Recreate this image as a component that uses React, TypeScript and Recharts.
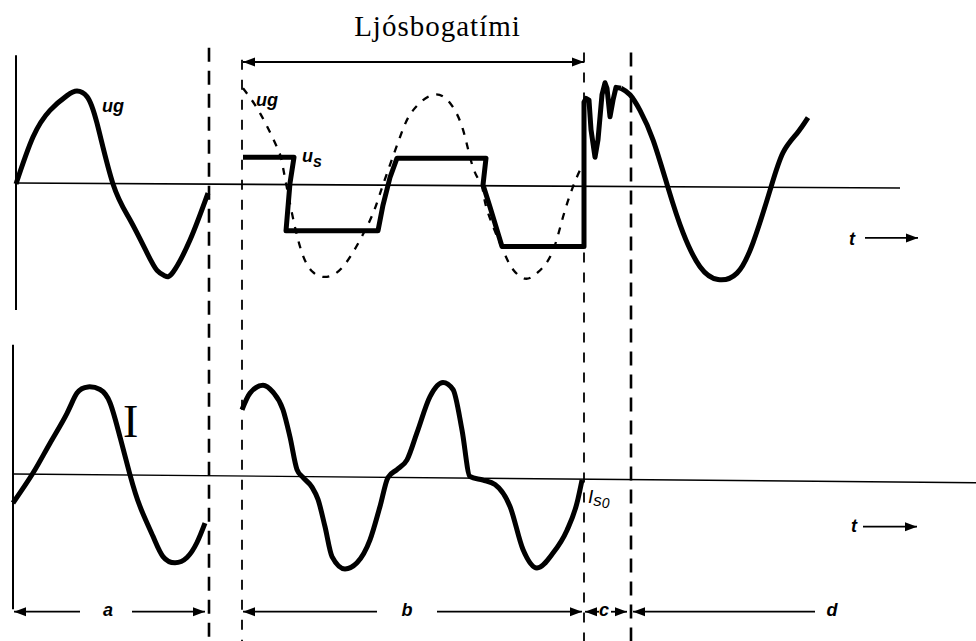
import React from 'react';
import { LineChart, Line, XAxis, YAxis, ReferenceLine, ReferenceDot } from 'recharts';

// t in ms (one mains period = 20 ms), voltage u and current i normalised to amplitude 1.
type Pt = { t: number; v: number };
const pts = (rows: number[][]): Pt[] => rows.map(([t, v]) => ({ t, v }));

const T_DOMAIN: [number, number] = [-1.6, 96];
const U_DOMAIN: [number, number] = [-4.97, 2.0];
const I_DOMAIN: [number, number] = [-1.89, 5.4];

// top panel: generator voltage before the fault
const UG_BEFORE = pts([
  [0, 0], [1.7, 0.51], [3.4, 0.8], [5.1, 0.96], [6.1, 1.01], [7.1, 0.95], [8.1, 0.66],
  [9.7, 0], [11.4, -0.39], [13.1, -0.75], [14.1, -0.94], [14.9, -1.0], [15.7, -0.96], [17.4, -0.61],
  [19.2, -0.1],
]);

// top panel: undisturbed generator voltage during the arc (dashed)
const UG_ARC = pts([
  [22.7, 1.04], [24.4, 0.77], [26.1, 0.4], [26.7, 0.18], [27.6, -0.32], [28.6, -0.75], [29.7, -0.96],
  [31.1, -1.01], [32.7, -0.9], [34.4, -0.61], [35.7, -0.32], [36.7, -0.01], [38.4, 0.51], [39.7, 0.8],
  [41.7, 0.97], [43.4, 0.88], [44.7, 0.59], [45.7, 0.18], [46.6, -0.03], [47.1, -0.28], [48.7, -0.72],
  [49.7, -0.93], [50.9, -1.03], [52.2, -0.96], [53.6, -0.75], [54.7, -0.36], [55.7, -0.03], [56.4, 0.15],
]);

// top panel: arc voltage, then the re-ignition spikes
const US_ARC = pts([
  [22.7, 0.29], [27.8, 0.29], [27.4, 0.01], [27.0, -0.51], [36.2, -0.51], [36.7, -0.23], [37.4, 0.07],
  [38.1, 0.28], [47.0, 0.28], [46.7, -0.01], [47.4, -0.25], [48.6, -0.68], [56.8, -0.68], [56.8, 0.89],
  [57.0, 0.93], [57.3, 0.91], [57.5, 0.59], [57.9, 0.29], [58.2, 0.48], [58.6, 0.97], [58.9, 1.1],
  [59.1, 1.04], [59.4, 0.73], [59.7, 0.91], [60.0, 1.05], [60.5, 1.04],
]);

// top panel: generator voltage after the arc is extinguished
const UG_AFTER = pts([
  [60.5, 1.04], [61.4, 0.97], [62.4, 0.8], [63.7, 0.48], [65.2, -0.04], [66.7, -0.53], [68.4, -0.9],
  [70.2, -1.04], [72.1, -0.97], [73.7, -0.64], [75.4, -0.07], [76.7, 0.34], [78.1, 0.55], [79.2, 0.72],
]);

// bottom panel: current
const I_BEFORE = pts([
  [-0.3, -0.32], [1.7, 0.02], [3.4, 0.36], [5.1, 0.7], [6.1, 0.93], [7.2, 1.0], [8.4, 0.97], [9.4, 0.82],
  [10.4, 0.43], [11.4, 0], [12.4, -0.36], [13.7, -0.7], [14.7, -0.93], [15.9, -1.0], [17.1, -0.94],
  [18.1, -0.77], [18.9, -0.55],
]);

const I_ARC = pts([
  [22.6, 0.74], [23.4, 0.93], [24.7, 1.02], [25.7, 0.94], [26.7, 0.74], [27.4, 0.43], [28.1, 0.06],
  [28.7, -0.03], [29.6, -0.14], [30.2, -0.28], [30.9, -0.59], [31.6, -0.93], [32.9, -1.07], [34.1, -1.0],
  [35.4, -0.74], [36.4, -0.36], [37.2, -0.03], [38.1, 0.06], [39.1, 0.17], [40.1, 0.48], [41.4, 0.89],
  [42.7, 1.05], [43.7, 0.97], [44.6, 0.51], [45.4, -0.02], [46.7, -0.06], [47.9, -0.11], [49.4, -0.36],
  [50.7, -0.85], [52.1, -1.06], [53.7, -0.89], [55.1, -0.63], [56.1, -0.32], [56.6, -0.06],
]);

// phase boundaries (ms) and where their dashes start (in u units)
const BOUNDARIES = [
  { t: 19.3, top: 1.48, bold: true },
  { t: 22.6, top: 1.35, bold: false },
  { t: 56.8, top: 1.43, bold: false },
  { t: 61.5, top: 1.43, bold: true },
];

type Head = 'start' | 'end' | 'both';
const ARROWS: { axis: 'u' | 'i'; t1: number; t2: number; v: number; head: Head }[] = [
  { axis: 'u', t1: 22.7, t2: 56.8, v: 1.326, head: 'both' },
  { axis: 'u', t1: 84.9, t2: 90.2, v: -0.587, head: 'end' },
  { axis: 'i', t1: 84.7, t2: 90.1, v: -0.59, head: 'end' },
  { axis: 'i', t1: -0.2, t2: 6.4, v: -1.557, head: 'start' },
  { axis: 'i', t1: 11.6, t2: 18.9, v: -1.557, head: 'end' },
  { axis: 'i', t1: 22.7, t2: 36.1, v: -1.557, head: 'start' },
  { axis: 'i', t1: 42.1, t2: 56.6, v: -1.557, head: 'end' },
  { axis: 'i', t1: 56.9, t2: 58.3, v: -1.557, head: 'start' },
  { axis: 'i', t1: 59.5, t2: 61.1, v: -1.557, head: 'end' },
  { axis: 'i', t1: 61.7, t2: 79.9, v: -1.557, head: 'start' },
];

type Part = { text: string; size?: number; dy?: number };
type Note = {
  axis: 'u' | 'i'; t: number; v: number; parts: Part[];
  size: number; serif?: boolean; italic?: boolean; bold?: boolean; anchor?: 'start' | 'middle'; spacing?: number;
};
const SANS = '"Liberation Sans", Arial, sans-serif';
const SERIF = '"Liberation Serif", "Times New Roman", serif';

const NOTES: Note[] = [
  { axis: 'u', t: 42.15, v: 1.61, parts: [{ text: 'Ljósbogatími' }], size: 29, serif: true, anchor: 'middle', spacing: 1 },
  { axis: 'u', t: 8.6, v: 0.78, parts: [{ text: 'ug' }], size: 18, italic: true, bold: true },
  { axis: 'u', t: 24.0, v: 0.85, parts: [{ text: 'ug' }], size: 18, italic: true, bold: true },
  { axis: 'u', t: 28.6, v: 0.24, parts: [{ text: 'u' }, { text: 's', size: 16, dy: 5 }], size: 18, italic: true, bold: true },
  { axis: 'u', t: 83.3, v: -0.66, parts: [{ text: 't' }], size: 18, italic: true, bold: true },
  { axis: 'i', t: 10.7, v: 0.43, parts: [{ text: 'I' }], size: 46, serif: true },
  { axis: 'i', t: 57.2, v: -0.32, parts: [{ text: 'I' }, { text: 's', size: 17, dy: 3 }, { text: '0', size: 14, dy: 2 }], size: 19, italic: true },
  { axis: 'i', t: 83.5, v: -0.65, parts: [{ text: 't' }], size: 18, italic: true, bold: true },
  { axis: 'i', t: 9.2, v: -1.61, parts: [{ text: 'a' }], size: 18, italic: true, bold: true, anchor: 'middle' },
  { axis: 'i', t: 39.1, v: -1.61, parts: [{ text: 'b' }], size: 18, italic: true, bold: true, anchor: 'middle' },
  { axis: 'i', t: 58.8, v: -1.61, parts: [{ text: 'c' }], size: 18, italic: true, bold: true, anchor: 'middle' },
  { axis: 'i', t: 81.6, v: -1.61, parts: [{ text: 'd' }], size: 18, italic: true, bold: true, anchor: 'middle' },
];

function arrowShape(p: any, head: Head) {
  const { x1, y1, x2, y2 } = p;
  const len = Math.hypot(x2 - x1, y2 - y1) || 1;
  const ux = (x2 - x1) / len;
  const uy = (y2 - y1) / len;
  const tip = (x: number, y: number, dx: number, dy: number) => {
    const bx = x - dx * 12;
    const by = y - dy * 12;
    return `${x},${y} ${bx - dy * 4.5},${by + dx * 4.5} ${bx + dy * 4.5},${by - dx * 4.5}`;
  };
  return (
    <g>
      <line x1={x1} y1={y1} x2={x2} y2={y2} stroke="#000" strokeWidth={1.8} />
      {(head === 'end' || head === 'both') && <polygon points={tip(x2, y2, ux, uy)} fill="#000" />}
      {(head === 'start' || head === 'both') && <polygon points={tip(x1, y1, -ux, -uy)} fill="#000" />}
    </g>
  );
}

function noteShape(p: any, n: Note) {
  return (
    <text
      x={p.cx}
      y={p.cy}
      textAnchor={n.anchor ?? 'start'}
      fontFamily={n.serif ? SERIF : SANS}
      fontSize={n.size}
      fontStyle={n.italic ? 'italic' : 'normal'}
      fontWeight={n.bold ? 700 : 400}
      letterSpacing={n.spacing ?? 0}
      fill="#000"
    >
      {n.parts.map((part, idx) => (
        <tspan key={idx} fontSize={part.size ?? n.size} dy={part.dy ?? 0}>
          {part.text}
        </tspan>
      ))}
    </text>
  );
}

const thick = { stroke: '#000', strokeWidth: 5, dot: false, activeDot: false, isAnimationActive: false, strokeLinejoin: 'round' as const };

export default function App() {
  return (
    <div style={{ position: 'absolute', left: 0, top: 0, width: 976, height: 641, background: '#fff' }}>
      <LineChart width={976} height={641} margin={{ top: 0, right: 0, bottom: 0, left: 0 }}>
        <XAxis type="number" dataKey="t" domain={T_DOMAIN} allowDataOverflow hide />
        <YAxis yAxisId="u" type="number" dataKey="v" domain={U_DOMAIN} allowDataOverflow hide />
        <YAxis yAxisId="i" type="number" dataKey="v" domain={I_DOMAIN} allowDataOverflow hide />

        {/* axes of both panels */}
        <ReferenceLine yAxisId="u" segment={[{ x: 0, y: 1.4 }, { x: 0, y: -1.37 }]} stroke="#000" strokeWidth={2} />
        <ReferenceLine yAxisId="u" segment={[{ x: 0, y: 0.01 }, { x: 88.4, y: -0.045 }]} stroke="#000" strokeWidth={1.6} />
        <ReferenceLine yAxisId="i" segment={[{ x: -0.3, y: 1.48 }, { x: -0.3, y: -1.53 }]} stroke="#000" strokeWidth={2} />
        <ReferenceLine yAxisId="i" segment={[{ x: -0.2, y: 0.01 }, { x: 96, y: -0.09 }]} stroke="#000" strokeWidth={1.4} />

        {BOUNDARIES.map((b) => (
          <ReferenceLine
            key={b.t}
            yAxisId="u"
            segment={[{ x: b.t, y: b.top }, { x: b.t, y: U_DOMAIN[0] }]}
            stroke="#000"
            strokeWidth={b.bold ? 2.6 : 1.8}
            strokeDasharray={b.bold ? '14 9' : '10 10'}
          />
        ))}

        {ARROWS.map((a, idx) => (
          <ReferenceLine
            key={`arrow-${idx}`}
            yAxisId={a.axis}
            segment={[{ x: a.t1, y: a.v }, { x: a.t2, y: a.v }]}
            shape={(p: any) => arrowShape(p, a.head)}
          />
        ))}

        <Line yAxisId="u" data={UG_ARC} dataKey="v" type="natural" stroke="#000" strokeWidth={2.3}
          strokeDasharray="7 8" dot={false} activeDot={false} isAnimationActive={false} />
        <Line yAxisId="u" data={UG_BEFORE} dataKey="v" type="natural" {...thick} />
        <Line yAxisId="u" data={US_ARC} dataKey="v" type="linear" {...thick} />
        <Line yAxisId="u" data={UG_AFTER} dataKey="v" type="natural" {...thick} />
        <Line yAxisId="i" data={I_BEFORE} dataKey="v" type="natural" {...thick} />
        <Line yAxisId="i" data={I_ARC} dataKey="v" type="monotone" {...thick} />

        {NOTES.map((n, idx) => (
          <ReferenceDot
            key={`note-${idx}`}
            yAxisId={n.axis}
            x={n.t}
            y={n.v}
            r={1}
            shape={(p: any) => noteShape(p, n)}
          />
        ))}
      </LineChart>
    </div>
  );
}
